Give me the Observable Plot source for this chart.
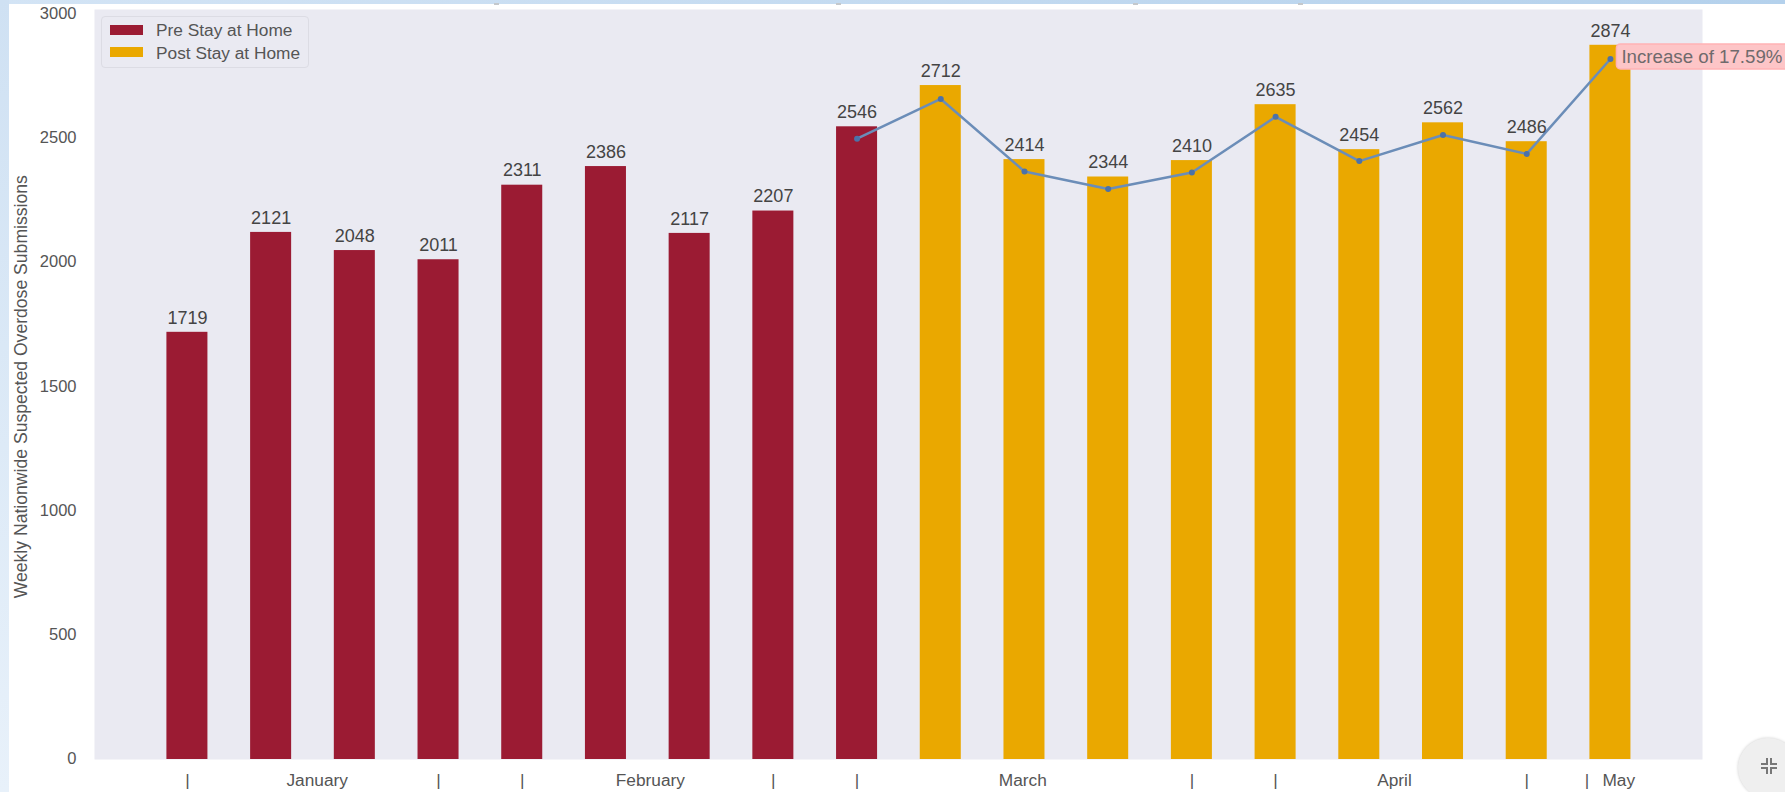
<!DOCTYPE html>
<html>
<head>
<meta charset="utf-8">
<script src="https://cdn.jsdelivr.net/npm/d3@7"></script>
<script src="https://cdn.jsdelivr.net/npm/@observablehq/plot@0.6"></script>
<style>
  html, body { margin: 0; padding: 0; background: #fff; overflow: hidden; }
  #page { position: relative; width: 1785px; height: 792px; overflow: hidden; font-family: "Liberation Sans", Arial, sans-serif; }
  #page svg { display: block; }
  .strip-top { position: absolute; left: 0; top: 0; width: 1785px; height: 4px; background: linear-gradient(90deg, #d3e4f5, #b4d1ec); }
  .strip-left { position: absolute; left: 0; top: 0; width: 9px; height: 792px; background: linear-gradient(180deg, #cfe1f3, #e8f1fa); }
  .nub { position: absolute; top: 3px; width: 5px; height: 2px; background: #c4c8cc; }
  .legend { position: absolute; left: 101px; top: 16px; width: 206px; height: 50px; border: 1px solid #dcdce4; border-radius: 4px; background: #eaeaf2; color: #555; font-size: 17.3px; }
  .legend div { position: absolute; left: 54px; white-space: nowrap; }
  .legend i { position: absolute; left: 8px; width: 33px; height: 10px; }
  .expand { position: absolute; left: 1738px; top: 738px; width: 60px; height: 60px; border-radius: 50%; background: #efefef; box-shadow: 0 0 3px #ccc; }
  .expand svg { position: absolute; left: 22px; top: 19px; }
</style>
</head>
<body>
<div id="page"></div>
<script>
// Weekly submissions, first week of the year through the first week of May
const weeks = d3.range(18);
const submissions = [1719, 2121, 2048, 2011, 2311, 2386, 2117, 2207, 2546, 2712, 2414, 2344, 2410, 2635, 2454, 2562, 2486, 2874];
const lastPreWeek = 8;
const phaseNames = ["Pre Stay at Home", "Post Stay at Home"];
const phaseColors = ["#9b1b33", "#eaa800"];

// Trend overlay from the last pre-order week onward
const trendWeeks = [8, 9, 10, 11, 12, 13, 14, 15, 16, 17];
const trendValues = [2498, 2658, 2366, 2296, 2362, 2586, 2408, 2513, 2437, 2819];

// Month labels and separators under the axis
const separatorAt = [0, 3, 4, 7, 8, 12, 13, 16, 16.72];
const monthNames = ["January", "February", "March", "April", "May"];
const monthAt = [1.55, 5.53, 9.98, 14.42, 17.1];
const yTicks = [0, 500, 1000, 1500, 2000, 2500, 3000];

const bars = weeks.map((w, i) => ({week: w, value: submissions[i], phase: w <= lastPreWeek ? phaseNames[0] : phaseNames[1]}));
const trend = trendWeeks.map((w, i) => ({week: w, value: trendValues[i]}));
const xLabels = [
  ...separatorAt.map(at => ({at, label: "|"})),
  ...monthAt.map((at, i) => ({at, label: monthNames[i]}))
];

const ink = "#555";
const halfBar = 0.245;

const chart = Plot.plot({
  width: 1785,
  height: 792,
  marginLeft: 94,
  marginRight: 83,
  marginTop: 9,
  marginBottom: 33,
  style: {background: "transparent", fontFamily: "'Liberation Sans', Arial, sans-serif"},
  x: {type: "linear", domain: [-1.11, 18.1], axis: null},
  y: {domain: [0, 3018], axis: null},
  color: {domain: phaseNames, range: phaseColors},
  marks: [
    Plot.frame({fill: "#eaeaf2", stroke: null}),
    Plot.rectY(bars, {x1: d => d.week - halfBar, x2: d => d.week + halfBar, y1: 0, y2: "value", fill: "phase"}),
    Plot.line(trend, {x: "week", y: "value", stroke: "#6b8db8", strokeWidth: 2.5}),
    Plot.dot(trend, {x: "week", y: "value", r: 3, fill: "#4c72a8"}),
    Plot.text(bars, {x: "week", y: "value", text: d => String(d.value), dy: -14.5, fill: "#444", fontSize: 18}),
    Plot.text(yTicks, {x: -1.11, y: d => d, text: d => String(d), textAnchor: "end", dx: -18, dy: -0.5, fill: ink, fontSize: 16.5}),
    Plot.text(xLabels, {x: "at", y: 0, text: "label", dy: 21, fill: ink, fontSize: 17.3}),
    Plot.text(["Weekly Nationwide Suspected Overdose Submissions"], {
      x: -1.11, y: 1500, text: d => d, rotate: -90, dx: -73, fill: ink, fontSize: 17.6
    }),
    Plot.text([{week: 17, value: trendValues[9], label: "Increase of 17.59%"}], {
      x: "week", y: "value", text: "label", textAnchor: "start", dx: 11, dy: -2, fill: "#6f6a6c", fontSize: 18.7
    })
  ]
});

const page = document.getElementById("page");
page.append(chart);

// Rounded pink callout behind the percentage label
const svg = d3.select(chart);
const callout = svg.selectAll("text").filter(function() { return this.textContent === "Increase of 17.59%"; });
callout.each(function() {
  const b = this.getBBox();
  d3.select(this.parentNode).insert("rect", "text")
    .attr("x", b.x - 5).attr("y", b.y - 2)
    .attr("width", b.width + 12).attr("height", b.height + 4)
    .attr("rx", 4).attr("fill", "#fdc5c7").attr("stroke", "#ffb3b5").attr("stroke-width", 1.5)
    .attr("transform", this.getAttribute("transform"));
});

// Legend box inside the plot area
const legend = document.createElement("div");
legend.className = "legend";
phaseNames.forEach((name, i) => {
  const swatch = document.createElement("i");
  swatch.style.top = `${8 + i * 22}px`;
  swatch.style.background = phaseColors[i];
  const label = document.createElement("div");
  label.style.top = `${3 + i * 23}px`;
  label.textContent = name;
  legend.append(swatch, label);
});
page.append(legend);

// Page chrome around the chart
for (const cls of ["strip-top", "strip-left"]) {
  const el = document.createElement("div");
  el.className = cls;
  page.append(el);
}
for (const left of [494, 836, 1133, 1298]) {
  const nub = document.createElement("div");
  nub.className = "nub";
  nub.style.left = `${left}px`;
  page.append(nub);
}

// Exit-fullscreen button in the bottom corner
const button = document.createElement("div");
button.className = "expand";
button.innerHTML = `<svg width="18" height="18" viewBox="0 0 18 18" fill="none" stroke="#777" stroke-width="2">
  <path d="M1 7H7V1M11 1V7H17M1 11H7V17M17 11H11V17"/></svg>`;
page.append(button);
</script>
</body>
</html>
